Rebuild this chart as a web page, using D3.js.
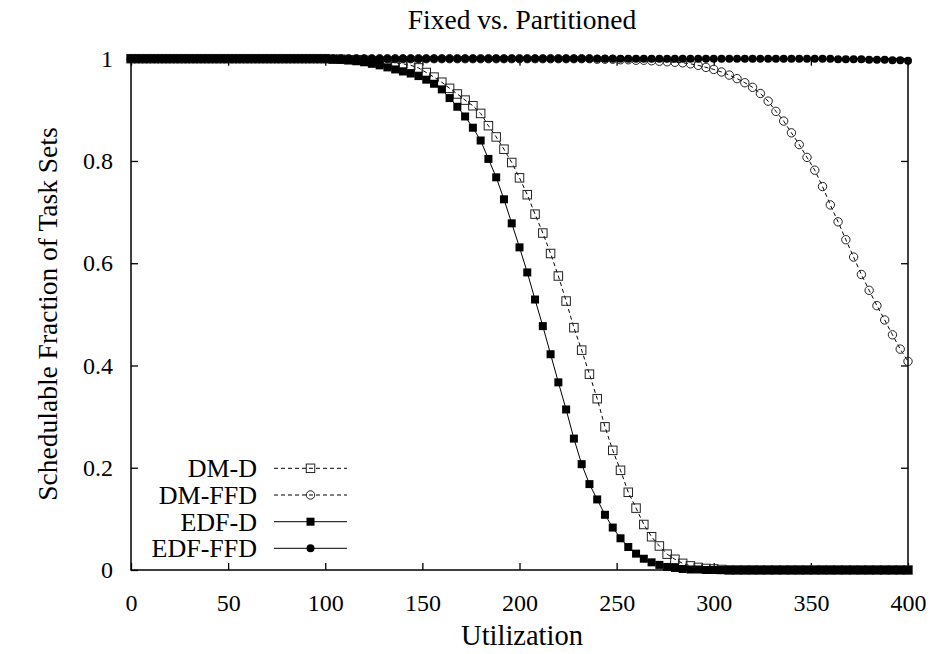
<!DOCTYPE html>
<html>
<head>
<meta charset="utf-8">
<script src="https://cdn.jsdelivr.net/npm/d3@7"></script>
<style>
  html, body { margin: 0; padding: 0; background: #fff; }
  svg text { font-family: "Liberation Serif", "Times New Roman", serif; fill: #000; }
</style>
</head>
<body>
<div id="mainDiv"></div>
<script>
'use strict';

// utilization steps (x), one sample every 4
var utilization = [
    0, 4, 8, 12, 16, 20, 24, 28, 32, 36, 40, 44, 48, 52, 56, 60, 64, 68, 72, 76,
    80, 84, 88, 92, 96, 100, 104, 108, 112, 116, 120, 124, 128, 132, 136, 140, 144, 148, 152, 156,
    160, 164, 168, 172, 176, 180, 184, 188, 192, 196, 200, 204, 208, 212, 216, 220, 224, 228, 232, 236,
    240, 244, 248, 252, 256, 260, 264, 268, 272, 276, 280, 284, 288, 292, 296, 300, 304, 308, 312, 316,
    320, 324, 328, 332, 336, 340, 344, 348, 352, 356, 360, 364, 368, 372, 376, 380, 384, 388, 392, 396,
    400
];

var seriesNames = ['DM-D', 'DM-FFD', 'EDF-D', 'EDF-FFD'];

var dmD = [
    1, 1, 1, 1, 1, 1, 1, 1, 1, 1, 1, 1, 1, 1, 1, 1, 1, 1, 1, 1,
    1, 1, 1, 1, 1, 1.0, 0.999, 0.999, 0.998, 0.998, 0.997, 0.996, 0.995, 0.994, 0.992, 0.990, 0.987, 0.982, 0.973, 0.964,
    0.954, 0.942, 0.931, 0.919, 0.908, 0.893, 0.869, 0.847, 0.823, 0.797, 0.767, 0.734, 0.696, 0.659, 0.619, 0.575, 0.526, 0.474, 0.430, 0.383,
    0.335, 0.280, 0.234, 0.195, 0.152, 0.121, 0.089, 0.065, 0.047, 0.031, 0.021, 0.013, 0.008, 0.005, 0.003, 0.002, 0.001, 0, 0, 0,
    0, 0, 0, 0, 0, 0, 0, 0, 0, 0, 0, 0, 0, 0, 0, 0, 0, 0, 0, 0,
    0
];

var dmFFD = [
    1, 1, 1, 1, 1, 1, 1, 1, 1, 1, 1, 1, 1, 1, 1, 1, 1, 1, 1, 1,
    1, 1, 1, 1, 1, 1, 1, 1, 1, 1, 1, 1, 1, 1, 1, 1, 1, 1, 1, 1,
    1, 1, 1, 1, 1, 1, 1, 1, 1, 1, 1, 1, 1, 1, 1, 1, 1, 1, 1, 1,
    0.999, 0.999, 0.999, 0.998, 0.998, 0.997, 0.997, 0.996, 0.995, 0.994, 0.993, 0.992, 0.990, 0.987, 0.983, 0.979, 0.974, 0.968, 0.961, 0.953,
    0.944, 0.932, 0.917, 0.897, 0.878, 0.855, 0.832, 0.807, 0.782, 0.750, 0.714, 0.681, 0.646, 0.612, 0.578, 0.547, 0.517, 0.489, 0.460, 0.432,
    0.408
];

var edfD = [
    1, 1, 1, 1, 1, 1, 1, 1, 1, 1, 1, 1, 1, 1, 1, 1, 1, 1, 1, 1,
    1, 1, 1, 1, 1, 1.0, 0.999, 0.998, 0.997, 0.995, 0.993, 0.990, 0.987, 0.983, 0.979, 0.975, 0.971, 0.966, 0.959, 0.951,
    0.940, 0.923, 0.906, 0.887, 0.865, 0.840, 0.804, 0.768, 0.725, 0.678, 0.631, 0.582, 0.529, 0.477, 0.422, 0.367, 0.314, 0.257, 0.207, 0.168,
    0.138, 0.108, 0.083, 0.062, 0.045, 0.032, 0.022, 0.015, 0.010, 0.006, 0.004, 0.002, 0.001, 0.001, 0, 0, 0, 0, 0, 0,
    0, 0, 0, 0, 0, 0, 0, 0, 0, 0, 0, 0, 0, 0, 0, 0, 0, 0, 0, 0,
    0
];

var edfFFD = [
    1, 1, 1, 1, 1, 1, 1, 1, 1, 1, 1, 1, 1, 1, 1, 1, 1, 1, 1, 1,
    1, 1, 1, 1, 1, 1, 1, 1, 1, 1, 1, 1, 1, 1, 1, 1, 1, 1, 1, 1,
    1, 1, 1, 1, 1, 1, 1, 1, 1, 1, 1, 1, 1, 1, 1, 1, 1, 1, 1, 1,
    1, 1, 1, 1, 1, 1, 1, 1, 1, 1, 1, 1, 1, 1, 1, 1, 1, 1, 1, 1,
    1, 1, 1, 1, 1, 1, 1, 1, 1, 1, 1, 0.999, 0.999, 0.999, 0.999, 0.998, 0.998, 0.998, 0.997, 0.997,
    0.996
];

var xTicks = [0, 50, 100, 150, 200, 250, 300, 350, 400];
var yTicks = [0, 0.2, 0.4, 0.6, 0.8, 1];

var myApp = {};

myApp.W = 937;
myApp.H = 654;
myApp.box = {left: 131, right: 908, top: 58.7, bottom: 570};
myApp.tickFont = 24;
myApp.legendFont = 26;
myApp.titleFont = 27.5;

myApp.styles = [
    {marker: 'square', filled: false, dash: '4,3'},
    {marker: 'circle', filled: false, dash: '4,3'},
    {marker: 'square', filled: true,  dash: null},
    {marker: 'circle', filled: true,  dash: null}
];

myApp.drawMarker = function(g, type, filled, x, y)
{
    var m;
    if(type == 'square')
    {
        var s = filled ? 8 : 8.5;
        m = g.append('rect')
            .attr('x', x - s/2)
            .attr('y', y - s/2)
            .attr('width', s)
            .attr('height', s);
    }
    else
    {
        m = g.append('circle')
            .attr('cx', x)
            .attr('cy', y)
            .attr('r', filled ? 4 : 4.2);
    }
    m.attr('fill', filled ? '#000' : 'none')
     .attr('stroke', filled ? 'none' : '#222')
     .attr('stroke-width', 1);
    return m;
}

myApp.run = function() {

    var box = myApp.box;
    var svg = d3.select('#mainDiv').append('svg')
        .attr('width', myApp.W)
        .attr('height', myApp.H)
        .style('display', 'block')
        .style('font-size', myApp.tickFont + 'px');

    var x = d3.scaleLinear().domain([0, 400]).range([box.left, box.right]);
    var y = d3.scaleLinear().domain([0, 1]).range([box.bottom, box.top]);

    // axes, ticks pointing inward and mirrored
    var tickLen = 7;
    var bottomAxis = d3.axisBottom(x).tickValues(xTicks).tickSizeInner(-tickLen).tickSizeOuter(0).tickPadding(33);
    var topAxis = d3.axisTop(x).tickValues(xTicks).tickSizeInner(-tickLen).tickSizeOuter(0).tickFormat('');
    var leftAxis = d3.axisLeft(y).tickValues(yTicks).tickSizeInner(-tickLen).tickSizeOuter(0).tickPadding(18)
        .tickFormat(function(d){ return d3.format('')(+d.toFixed(1)); });
    var rightAxis = d3.axisRight(y).tickValues(yTicks).tickSizeInner(-tickLen).tickSizeOuter(0).tickFormat('');

    var axes = [
        svg.append('g').attr('transform', 'translate(0,' + box.bottom + ')').call(bottomAxis),
        svg.append('g').attr('transform', 'translate(0,' + box.top + ')').call(topAxis),
        svg.append('g').attr('transform', 'translate(' + box.left + ',0)').call(leftAxis),
        svg.append('g').attr('transform', 'translate(' + box.right + ',0)').call(rightAxis)
    ];
    axes.forEach(function(a){
        a.select('.domain').remove();
        a.selectAll('line').attr('stroke', '#000').attr('stroke-width', 1.3);
        a.selectAll('text')
            .attr('font-family', '"Liberation Serif", serif')
            .attr('font-size', myApp.tickFont)
            .attr('fill', '#000');
    });
    axes[0].selectAll('text').attr('dy', '0.32em');

    svg.append('rect')
        .attr('x', box.left).attr('y', box.top)
        .attr('width', box.right - box.left)
        .attr('height', box.bottom - box.top)
        .attr('fill', 'none')
        .attr('stroke', '#000')
        .attr('stroke-width', 1.5);

    // series
    var allSeries = [dmD, dmFFD, edfD, edfFFD];
    var line = d3.line()
        .x(function(d){ return x(d[0]); })
        .y(function(d){ return y(d[1]); });

    allSeries.forEach(function(vals, k){
        var st = myApp.styles[k];
        var pts = utilization.map(function(u, i){ return [u, vals[i]]; });
        var g = svg.append('g');
        g.append('path')
            .datum(pts)
            .attr('d', line)
            .attr('fill', 'none')
            .attr('stroke', '#000')
            .attr('stroke-width', 1)
            .attr('stroke-dasharray', st.dash);
        pts.forEach(function(p){
            myApp.drawMarker(g, st.marker, st.filled, x(p[0]), y(p[1]));
        });
    });

    // legend
    var legY = [468.3, 495, 521.7, 548.3];
    seriesNames.forEach(function(name, k){
        var st = myApp.styles[k];
        var g = svg.append('g');
        g.append('text')
            .attr('x', 257).attr('y', legY[k])
            .attr('dy', '0.35em')
            .attr('text-anchor', 'end')
            .attr('font-size', myApp.legendFont)
            .text(name);
        g.append('line')
            .attr('x1', 274).attr('x2', 347)
            .attr('y1', legY[k]).attr('y2', legY[k])
            .attr('stroke', '#000')
            .attr('stroke-width', 1)
            .attr('stroke-dasharray', st.dash);
        myApp.drawMarker(g, st.marker, st.filled, 310.5, legY[k]);
    });

    // titles
    svg.append('text')
        .attr('x', 522).attr('y', 29)
        .attr('text-anchor', 'middle')
        .attr('font-size', myApp.titleFont)
        .text('Fixed vs. Partitioned');

    svg.append('text')
        .attr('x', 522).attr('y', 645)
        .attr('text-anchor', 'middle')
        .attr('font-size', 28.5)
        .text('Utilization');

    svg.append('text')
        .attr('transform', 'translate(47,314) rotate(-90)')
        .attr('text-anchor', 'middle')
        .attr('dy', '0.35em')
        .attr('font-size', myApp.titleFont)
        .text('Schedulable Fraction of Task Sets');
}

window.myApp = myApp;
myApp.run();
</script>
</body>
</html>
